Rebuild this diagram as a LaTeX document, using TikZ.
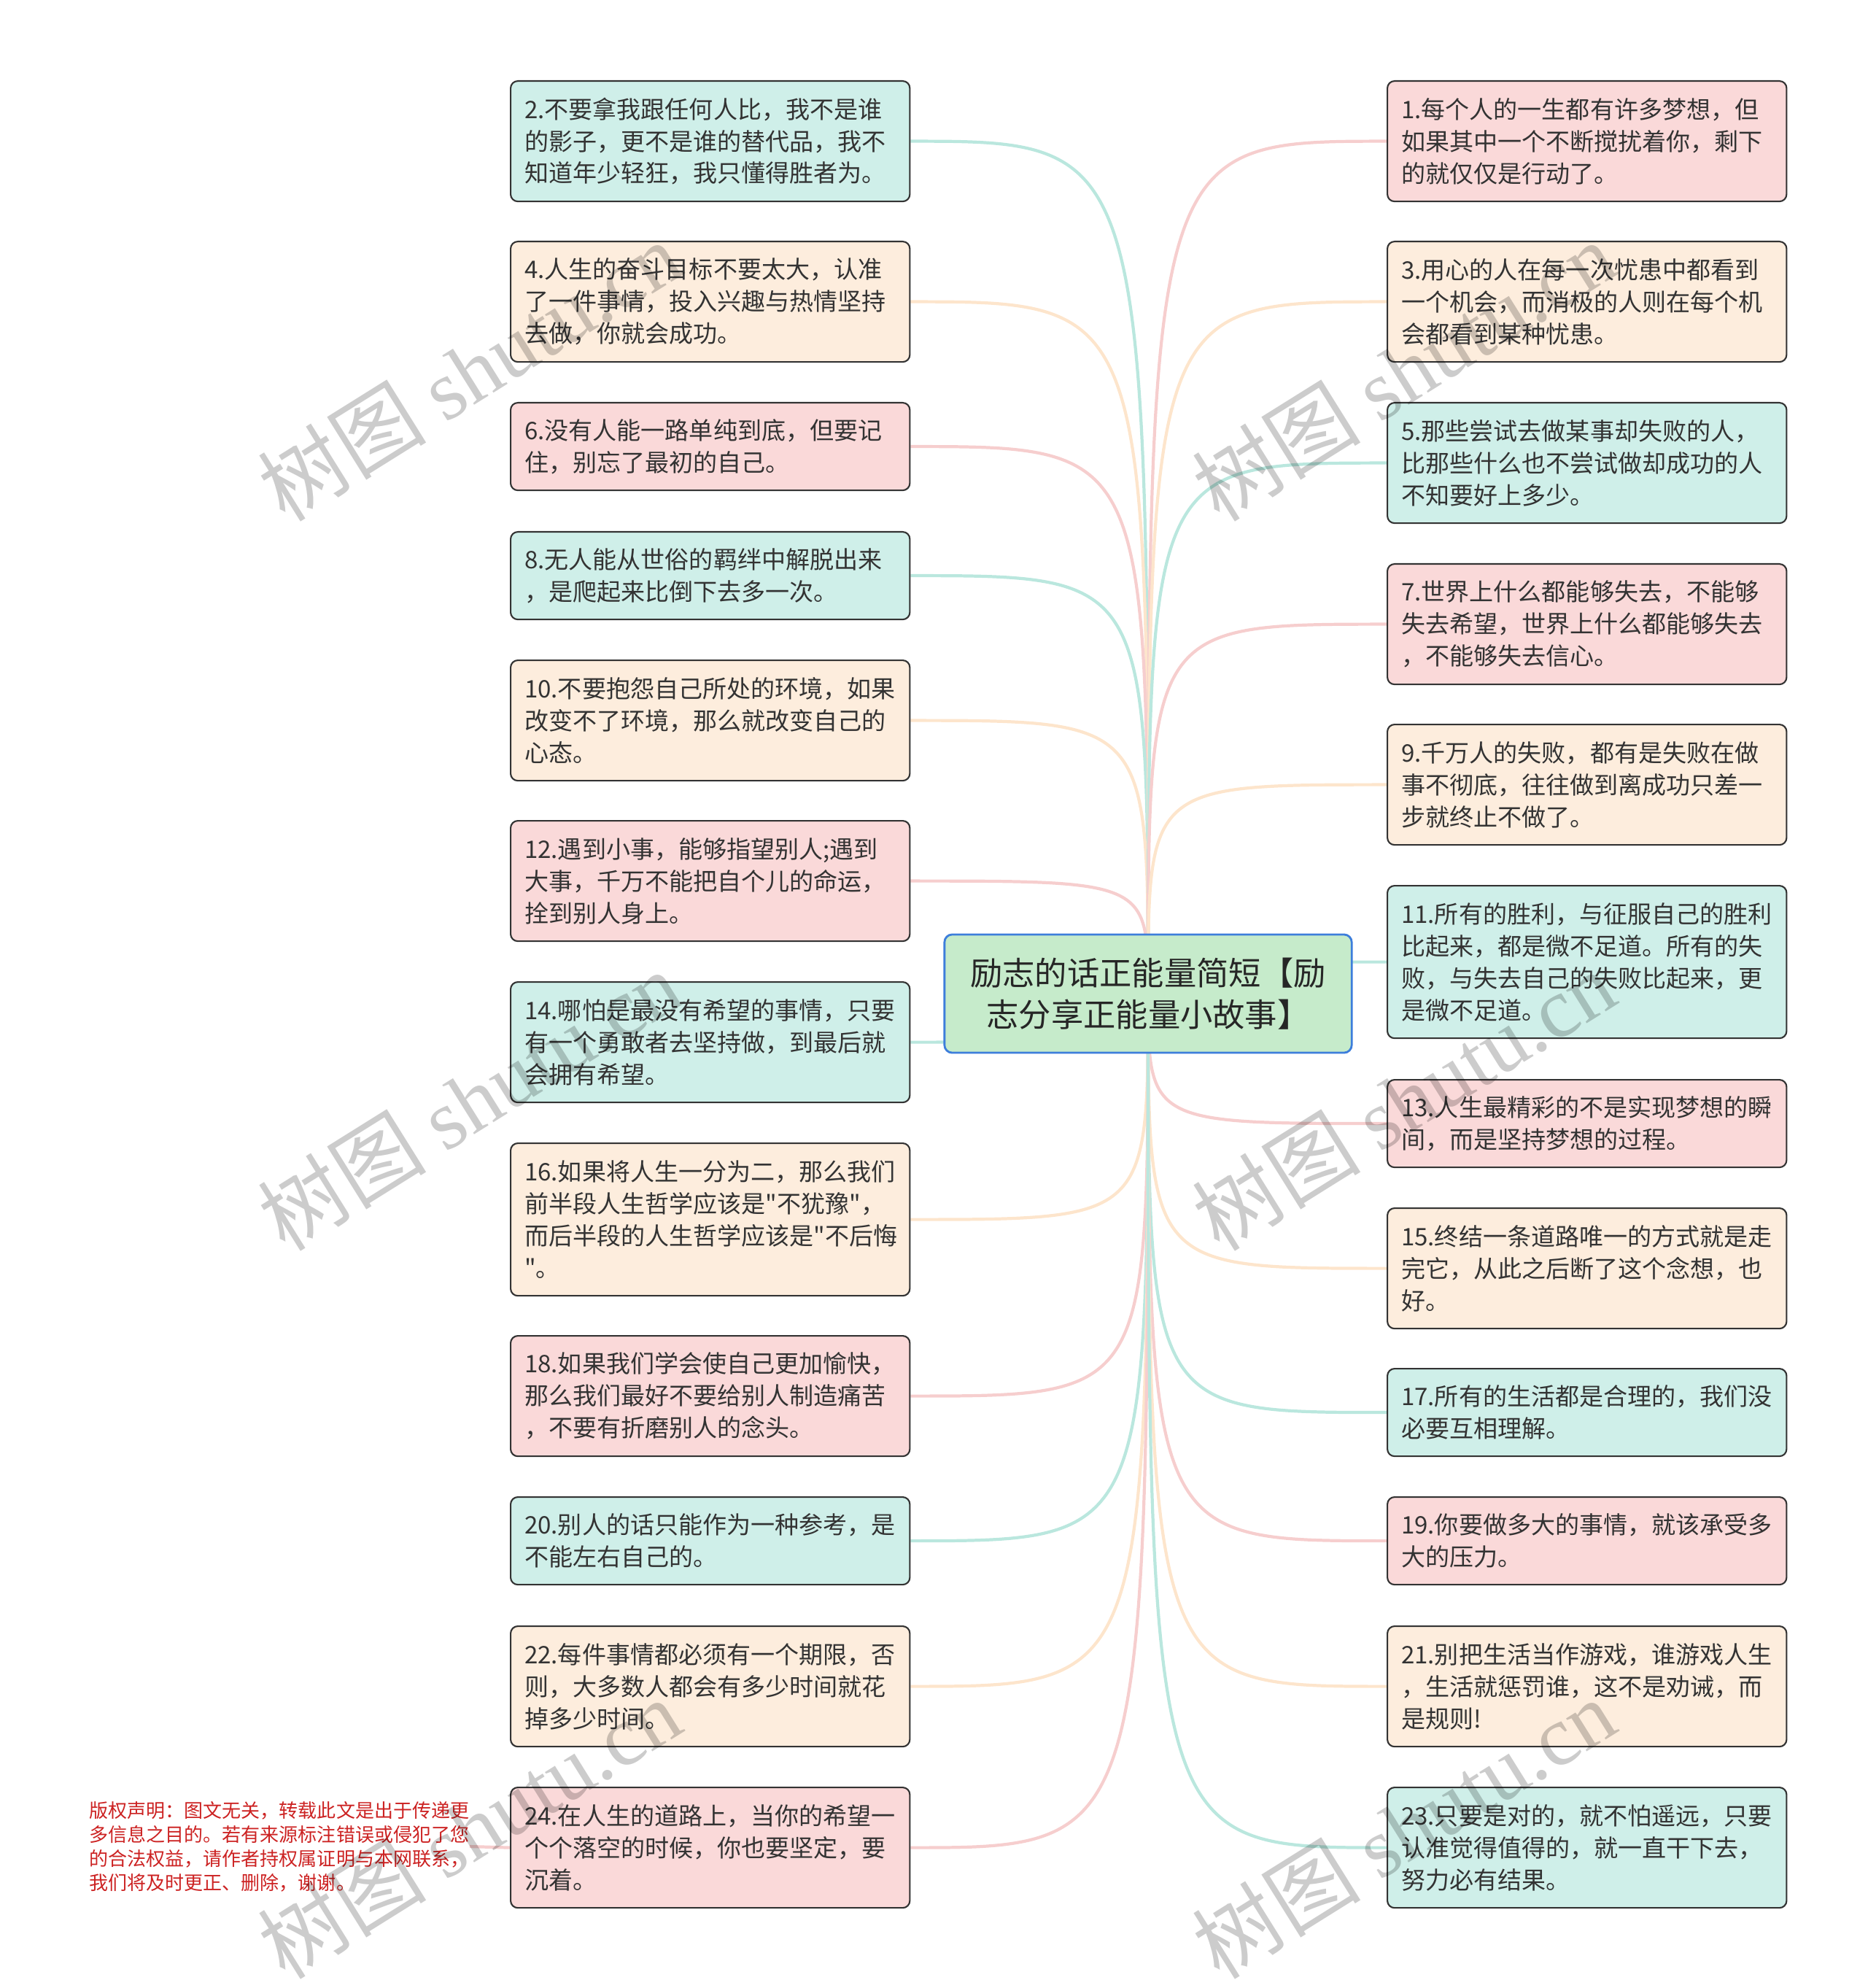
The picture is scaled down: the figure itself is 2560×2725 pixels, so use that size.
\documentclass[tikz,border=0pt]{standalone}
\usepackage{fontspec}
\usepackage{tikz}
\usetikzlibrary{backgrounds}
\newfontfamily\cjk{Noto Sans CJK SC}
\newfontfamily\stampfont{Liberation Serif}
\definecolor{tealfill}{RGB}{207,239,233}
\definecolor{peachfill}{RGB}{253,237,221}
\definecolor{rosefill}{RGB}{250,217,217}
\definecolor{tealline}{RGB}{186,231,222}
\definecolor{peachline}{RGB}{253,229,204}
\definecolor{roseline}{RGB}{246,206,206}
\definecolor{topicfill}{RGB}{198,235,203}
\definecolor{topicline}{RGB}{61,126,219}
\definecolor{sayingtext}{RGB}{51,51,51}
\definecolor{noticered}{RGB}{204,34,34}
\newcommand{\sayingfont}{\cjk\fontsize{9.4pt}{12.5pt}\selectfont}
\tikzstyle{saying}=[draw=black!80, line width=0.6pt, rounded corners=2.8pt, anchor=north west,
                    text width=5.09cm, align=left, inner xsep=0.19cm, inner ysep=0, text=sayingtext,
                    font=\sayingfont]
\tikzstyle{tsaying}=[saying, fill=tealfill]
\tikzstyle{osaying}=[saying, fill=peachfill]
\tikzstyle{rsaying}=[saying, fill=rosefill]
\tikzstyle{twolines}=[minimum height=1.2cm]
\tikzstyle{threelines}=[minimum height=1.65cm]
\tikzstyle{fourlines}=[minimum height=2.09cm]
\tikzstyle{topic}=[draw=topicline, fill=topicfill, line width=0.8pt, rounded corners=3pt,
                   minimum width=5.58cm, minimum height=1.62cm, inner sep=0, align=center,
                   text=black!85, font=\cjk\fontsize{12.6pt}{16.3pt}\selectfont]
\tikzstyle{link}=[line width=1.2pt]
\tikzstyle{notice}=[anchor=west, inner sep=0, align=left, text=noticered,
                    font=\cjk\fontsize{7.4pt}{9.4pt}\selectfont]
\tikzstyle{stamp}=[rotate=32, inner sep=0, text=black, text opacity=0.2,
                   font=\cjk\fontsize{33pt}{33pt}\selectfont]

\begin{document}
\begin{tikzpicture}[x=0.01cm, y=-0.01cm]
    \useasboundingbox (0,0) rectangle (2560,2725);
    \node[topic] (root) at (1574,1362) {励志的话正能量简短【励\\志分享正能量小故事】};
    % left column
    \node[tsaying, threelines] (l2) at (699,110) {2.不要拿我跟任何人比，我不是谁\\的影子，更不是谁的替代品，我不\\知道年少轻狂，我只懂得胜者为。};
    \node[osaying, threelines] (l4) at (699,330) {4.人生的奋斗目标不要太大，认准\\了一件事情，投入兴趣与热情坚持\\去做，你就会成功。};
    \node[rsaying, twolines] (l6) at (699,551) {6.没有人能一路单纯到底，但要记\\住，别忘了最初的自己。};
    \node[tsaying, twolines] (l8) at (699,728) {8.无人能从世俗的羁绊中解脱出来\\，是爬起来比倒下去多一次。};
    \node[osaying, threelines] (l10) at (699,904) {10.不要抱怨自己所处的环境，如果\\改变不了环境，那么就改变自己的\\心态。};
    \node[rsaying, threelines] (l12) at (699,1124) {12.遇到小事，能够指望别人;遇到\\大事，千万不能把自个儿的命运，\\拴到别人身上。};
    \node[tsaying, threelines] (l14) at (699,1345) {14.哪怕是最没有希望的事情，只要\\有一个勇敢者去坚持做，到最后就\\会拥有希望。};
    \node[osaying, fourlines] (l16) at (699,1566) {16.如果将人生一分为二，那么我们\\前半段人生哲学应该是"不犹豫"，\\而后半段的人生哲学应该是"不后悔\\"。};
    \node[rsaying, threelines] (l18) at (699,1830) {18.如果我们学会使自己更加愉快，\\那么我们最好不要给别人制造痛苦\\，不要有折磨别人的念头。};
    \node[tsaying, twolines] (l20) at (699,2051) {20.别人的话只能作为一种参考，是\\不能左右自己的。};
    \node[osaying, threelines] (l22) at (699,2228) {22.每件事情都必须有一个期限，否\\则，大多数人都会有多少时间就花\\掉多少时间。};
    \node[rsaying, threelines] (l24) at (699,2449) {24.在人生的道路上，当你的希望一\\个个落空的时候，你也要坚定，要\\沉着。};
    % right column
    \node[rsaying, threelines] (r1) at (1901,110) {1.每个人的一生都有许多梦想，但\\如果其中一个不断搅扰着你，剩下\\的就仅仅是行动了。};
    \node[osaying, threelines] (r3) at (1901,330) {3.用心的人在每一次忧患中都看到\\一个机会，而消极的人则在每个机\\会都看到某种忧患。};
    \node[tsaying, threelines] (r5) at (1901,551) {5.那些尝试去做某事却失败的人，\\比那些什么也不尝试做却成功的人\\不知要好上多少。};
    \node[rsaying, threelines] (r7) at (1901,772) {7.世界上什么都能够失去，不能够\\失去希望，世界上什么都能够失去\\，不能够失去信心。};
    \node[osaying, threelines] (r9) at (1901,992) {9.千万人的失败，都有是失败在做\\事不彻底，往往做到离成功只差一\\步就终止不做了。};
    \node[tsaying, fourlines] (r11) at (1901,1213) {11.所有的胜利，与征服自己的胜利\\比起来，都是微不足道。所有的失\\败，与失去自己的失败比起来，更\\是微不足道。};
    \node[rsaying, twolines] (r13) at (1901,1479) {13.人生最精彩的不是实现梦想的瞬\\间，而是坚持梦想的过程。};
    \node[osaying, threelines] (r15) at (1901,1655) {15.终结一条道路唯一的方式就是走\\完它，从此之后断了这个念想，也\\好。};
    \node[tsaying, twolines] (r17) at (1901,1875) {17.所有的生活都是合理的，我们没\\必要互相理解。};
    \node[rsaying, twolines] (r19) at (1901,2051) {19.你要做多大的事情，就该承受多\\大的压力。};
    \node[osaying, threelines] (r21) at (1901,2228) {21.别把生活当作游戏，谁游戏人生\\，生活就惩罚谁，这不是劝诫，而\\是规则!};
    \node[tsaying, threelines] (r23) at (1901,2449) {23.只要是对的，就不怕遥远，只要\\认准觉得值得的，就一直干下去，\\努力必有结果。};
    \node[notice] (notice) at (122,2531) {版权声明：图文无关，转载此文是出于传递更\\多信息之目的。若有来源标注错误或侵犯了您\\的合法权益，请作者持权属证明与本网联系，\\我们将及时更正、删除，谢谢。};
    \begin{scope}[on background layer]
        \foreach \n/\c in {l2/tealline, l4/peachline, l6/roseline, l8/tealline, l10/peachline, l12/roseline,
                           l14/tealline, l16/peachline, l18/roseline, l20/tealline, l22/peachline, l24/roseline}
            \draw[link, draw=\c] (root.center) .. controls (root.center |- \n.east) .. (\n.east);
        \foreach \n/\c in {r1/roseline, r3/peachline, r5/tealline, r7/roseline, r9/peachline, r11/tealline,
                           r13/roseline, r15/peachline, r17/tealline, r19/roseline, r21/peachline, r23/tealline}
            \draw[link, draw=\c] (root.center) .. controls (root.center |- \n.west) .. (\n.west);
        \draw[link, draw=roseline] (notice.east) -- (l24.west);
    \end{scope}
    % watermarks
    \foreach \x/\i in {643/a, 1924/b}
        \foreach \y/\j in {508/1, 1508/2, 2506/3}
            \node[stamp] (wm\i\j) at (\x,\y) {树图 {\stampfont shutu.cn}};
\end{tikzpicture}
\end{document}
